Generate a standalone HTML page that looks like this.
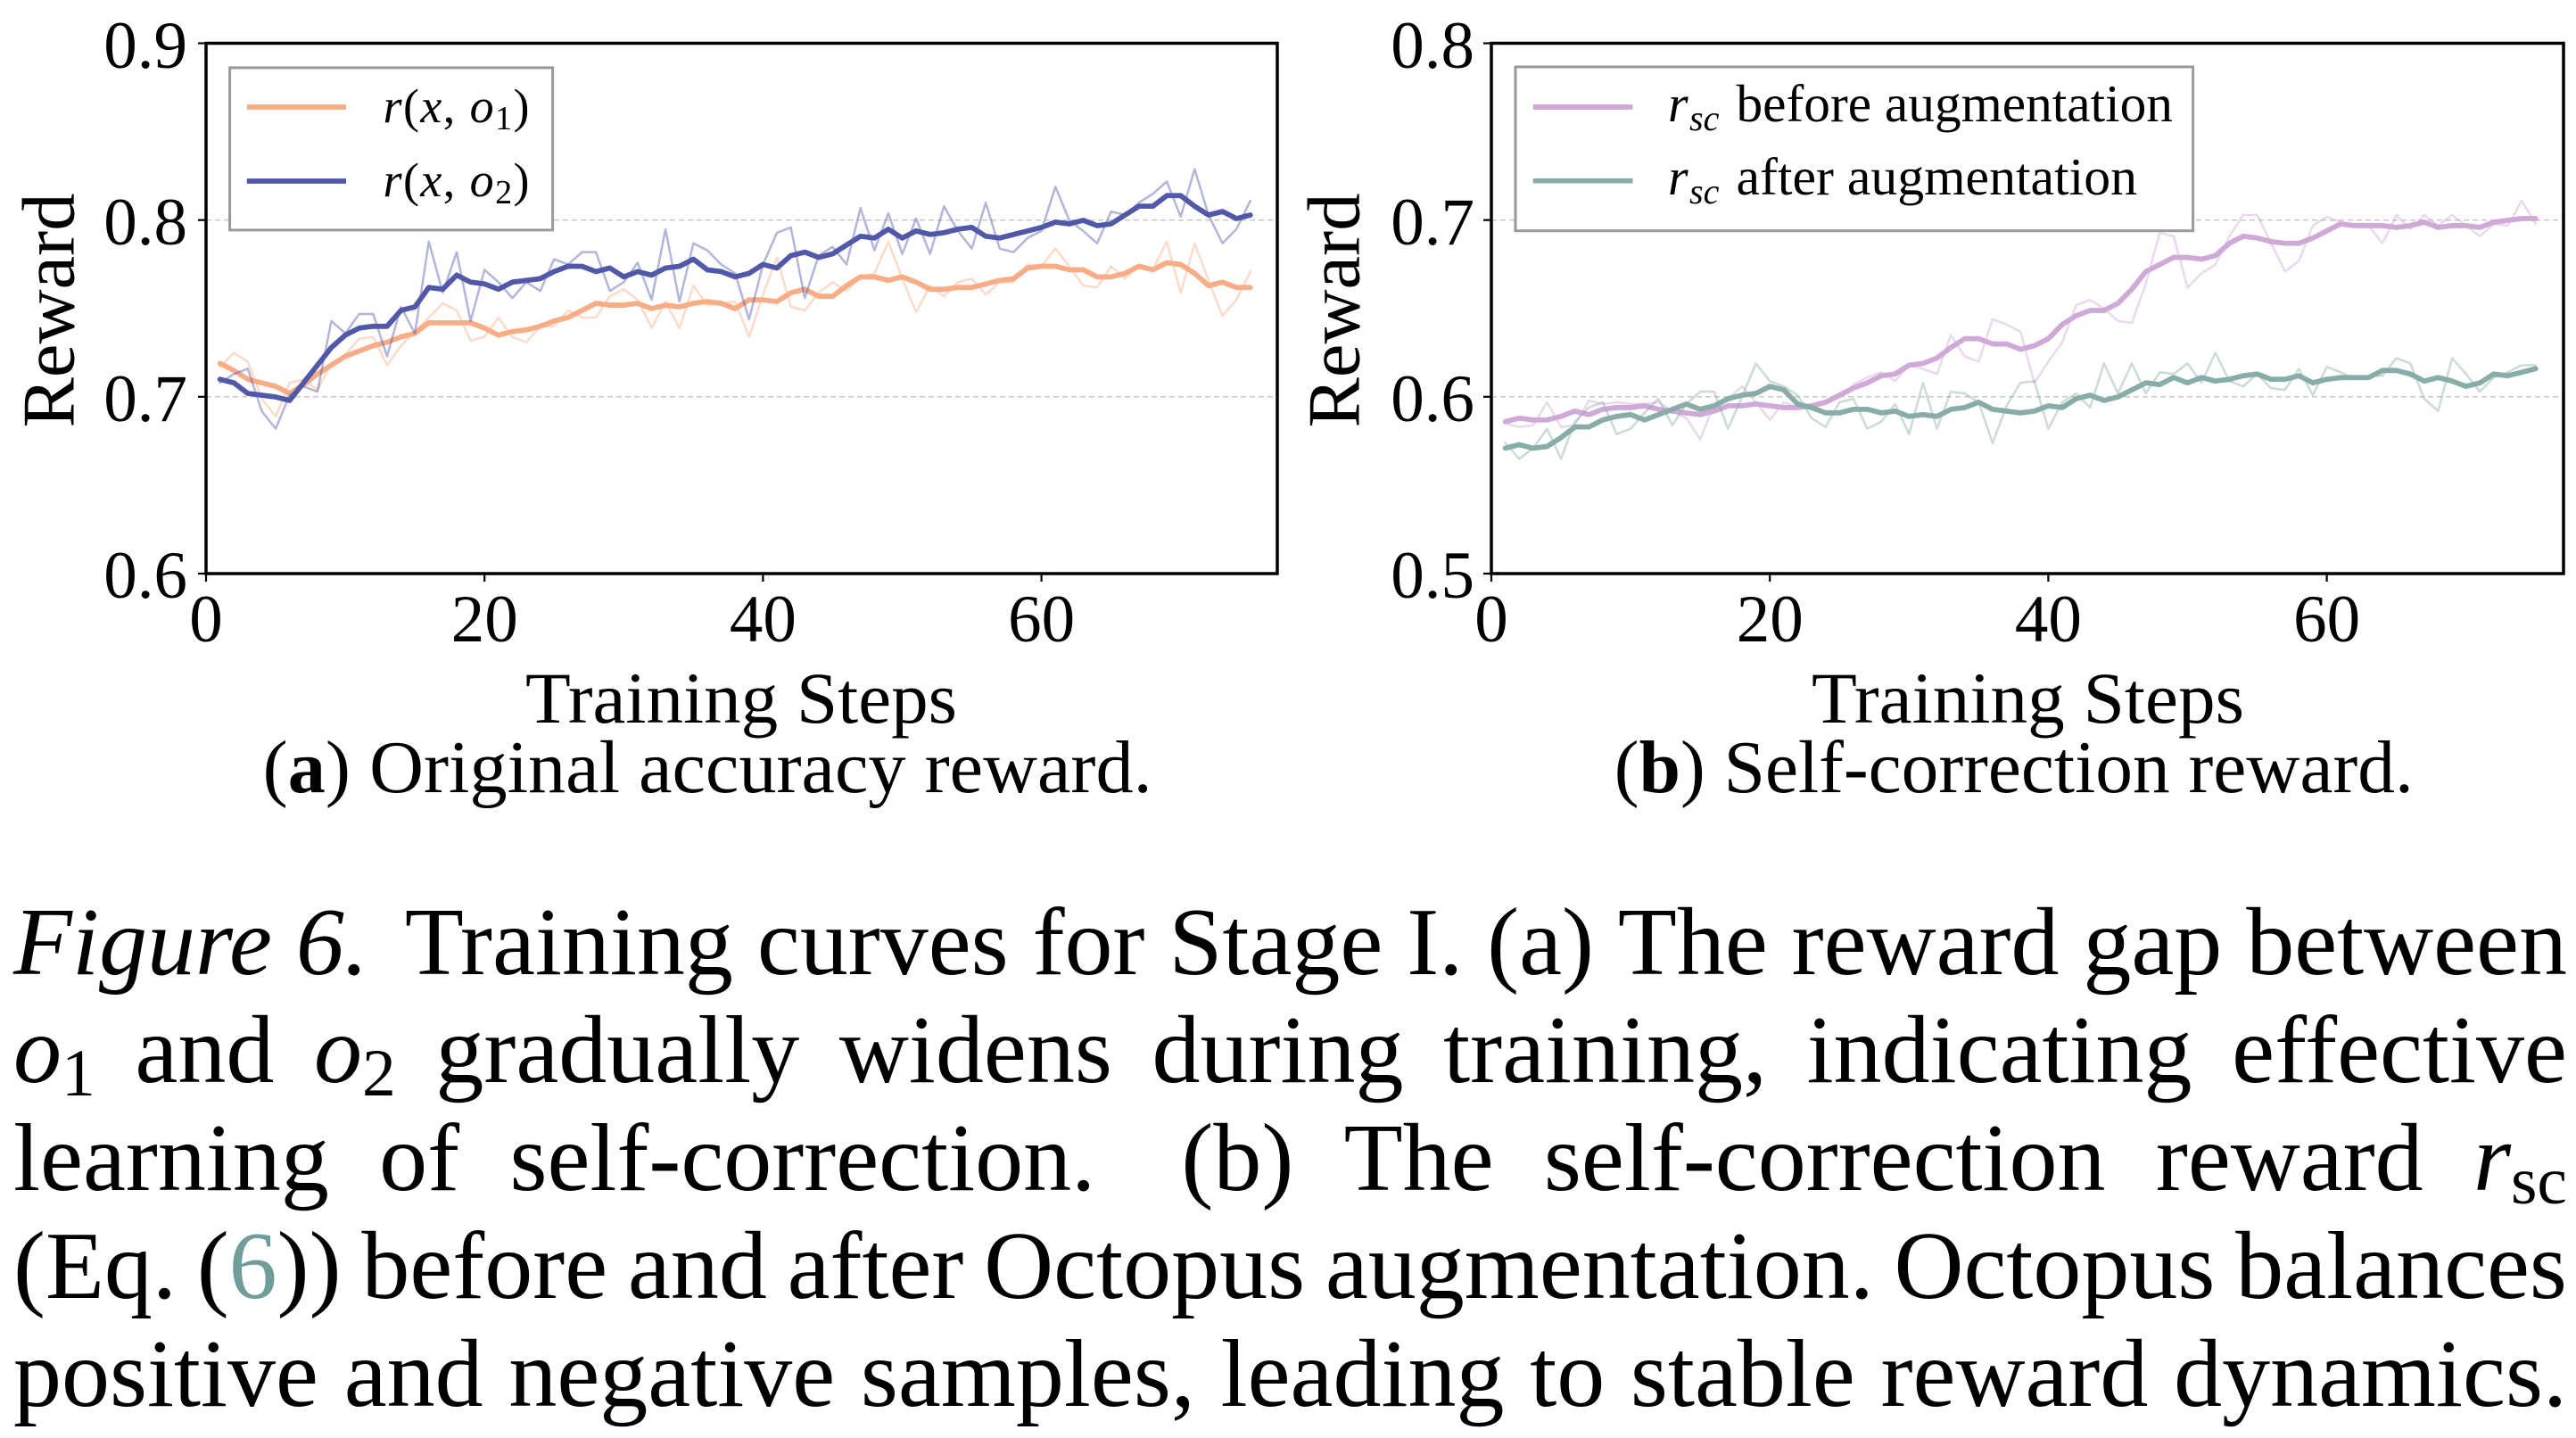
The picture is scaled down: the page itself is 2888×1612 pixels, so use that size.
<!DOCTYPE html>
<html>
<head>
<meta charset="utf-8">
<style>
  html,body{margin:0;padding:0;background:#fff;}
  body{width:2888px;height:1612px;position:relative;overflow:hidden;}
  svg{position:absolute;left:0;top:0;}
  .cap{position:absolute;left:15px;width:2863px;height:108px;display:flex;justify-content:space-between;align-items:baseline;
       font-family:"Liberation Serif",serif;font-size:108px;line-height:1;color:#000;white-space:nowrap;}
  .cap span{line-height:1;}
  .cap sub{font-size:0.7em;vertical-align:-0.2em;line-height:0;}
  .it{font-style:italic;}
</style>
</head>
<body>
<svg width="2888" height="1612" viewBox="0 0 2888 1612" xmlns="http://www.w3.org/2000/svg" font-family="'Liberation Serif', serif">
  <!-- grid -->
  <g stroke="#c9c9c9" stroke-width="1.5" stroke-dasharray="6 4">
    <line x1="231" y1="246.7" x2="1432" y2="246.7"/>
    <line x1="231" y1="444.8" x2="1432" y2="444.8"/>
    <line x1="1672" y1="246.7" x2="2874" y2="246.7"/>
    <line x1="1672" y1="444.8" x2="2874" y2="444.8"/>
  </g>

  <g transform="matrix(15.61 0 0 -1980 231 1831)" fill="none" stroke-linejoin="round" stroke-linecap="round">
    <polyline vector-effect="non-scaling-stroke" stroke="#F8AD86" stroke-opacity="0.44" stroke-width="2.5"
      points="1,.717 2,.725 3,.720 4,.699 5,.689 6,.708 7,.710 8,.704 9,.719 10,.724 11,.733 12,.734 13,.718 14,.729 15,.737 16,.745 17,.753 18,.749 19,.732 20,.734 21,.745 22,.734 23,.731 24,.740 25,.740 26,.749 27,.745 28,.745 29,.757 30,.761 31,.755 32,.739 33,.754 34,.739 35,.763 36,.752 37,.753 38,.754 39,.734 40,.758 41,.779 42,.751 43,.749 44,.759 45,.765 46,.760 47,.768 48,.770 49,.788 50,.767 51,.748 52,.763 53,.757 54,.765 55,.767 56,.758 57,.765 58,.765 59,.775 60,.774 61,.784 62,.774 63,.763 64,.762 65,.774 66,.767 67,.775 68,.772 69,.788 70,.759 71,.787 72,.766 73,.746 74,.755 75,.771"/>
    <polyline vector-effect="non-scaling-stroke" stroke="#F8AD86" stroke-width="5.8"
      points="1,.719 2,.715 3,.710 4,.708 5,.706 6,.702 7,.707 8,.713 9,.718 10,.723 11,.726 12,.729 13,.731 14,.734 15,.736 16,.742 17,.742 18,.742 19,.742 20,.739 21,.735 22,.737 23,.738 24,.740 25,.743 26,.745 27,.749 28,.753 29,.752 30,.752 31,.753 32,.750 33,.752 34,.751 35,.753 36,.754 37,.753 38,.750 39,.755 40,.755 41,.754 42,.759 43,.761 44,.757 45,.757 46,.763 47,.768 48,.768 49,.766 50,.768 51,.765 52,.761 53,.761 54,.762 55,.762 56,.764 57,.766 58,.767 59,.773 60,.774 61,.774 62,.772 63,.772 64,.768 65,.768 66,.770 67,.774 68,.772 69,.776 70,.775 71,.770 72,.763 73,.765 74,.762 75,.762"/>
    <polyline vector-effect="non-scaling-stroke" stroke="#5258A8" stroke-opacity="0.44" stroke-width="2.5"
      points="1,.708 2,.713 3,.716 4,.692 5,.682 6,.701 7,.706 8,.703 9,.743 10,.736 11,.747 12,.747 13,.723 14,.751 15,.736 16,.788 17,.759 18,.782 19,.743 20,.772 21,.765 22,.756 23,.765 24,.760 25,.778 26,.775 27,.782 28,.782 29,.760 30,.765 31,.776 32,.755 33,.795 34,.754 35,.787 36,.783 37,.775 38,.770 39,.744 40,.775 41,.793 42,.796 43,.756 44,.780 45,.785 46,.775 47,.807 48,.783 49,.804 50,.781 51,.801 52,.781 53,.808 54,.794 55,.784 56,.810 57,.784 58,.782 59,.790 60,.794 61,.819 62,.800 63,.794 64,.787 65,.805 66,.803 67,.810 68,.815 69,.822 70,.802 71,.829 72,.803 73,.787 74,.795 75,.811"/>
    <polyline vector-effect="non-scaling-stroke" stroke="#5258A8" stroke-width="5.8"
      points="1,.710 2,.708 3,.702 4,.701 5,.700 6,.698 7,.708 8,.718 9,.728 10,.735 11,.739 12,.740 13,.740 14,.749 15,.751 16,.762 17,.761 18,.769 19,.765 20,.764 21,.761 22,.765 23,.766 24,.767 25,.771 26,.774 27,.774 28,.771 29,.773 30,.768 31,.771 32,.769 33,.773 34,.774 35,.778 36,.772 37,.771 38,.768 39,.770 40,.775 41,.773 42,.780 43,.782 44,.779 45,.781 46,.786 47,.791 48,.790 49,.795 50,.790 51,.794 52,.792 53,.793 54,.795 55,.796 56,.791 57,.790 58,.792 59,.794 60,.796 61,.799 62,.798 63,.800 64,.797 65,.798 66,.803 67,.808 68,.808 69,.814 70,.814 71,.808 72,.803 73,.805 74,.801 75,.803"/>
  </g>

  <g transform="matrix(15.61 0 0 -1980 1672 1633)" fill="none" stroke-linejoin="round" stroke-linecap="round">
    <polyline vector-effect="non-scaling-stroke" stroke="#CFA9D7" stroke-opacity="0.44" stroke-width="2.5"
      points="1,.585 2,.583 3,.584 4,.597 5,.583 6,.584 7,.598 8,.596 9,.597 10,.596 11,.596 12,.597 13,.592 14,.588 15,.576 16,.596 17,.599 18,.606 19,.597 20,.587 21,.597 22,.594 23,.594 24,.596 25,.600 26,.607 27,.611 28,.614 29,.609 30,.618 31,.616 32,.613 33,.635 34,.623 35,.620 36,.644 37,.641 38,.637 39,.608 40,.620 41,.631 42,.652 43,.655 44,.650 45,.643 46,.642 47,.664 48,.693 49,.691 50,.662 51,.670 52,.675 53,.691 54,.703 55,.703 56,.687 57,.671 58,.677 59,.697 60,.702 61,.699 62,.697 63,.697 64,.687 65,.703 66,.695 67,.703 68,.697 69,.703 70,.697 71,.691 72,.698 73,.697 74,.711 75,.698"/>
    <polyline vector-effect="non-scaling-stroke" stroke="#CFA9D7" stroke-width="5.8"
      points="1,.586 2,.588 3,.587 4,.587 5,.589 6,.592 7,.590 8,.593 9,.594 10,.594 11,.595 12,.593 13,.592 14,.591 15,.590 16,.592 17,.595 18,.595 19,.596 20,.595 21,.594 22,.594 23,.595 24,.597 25,.601 26,.605 27,.608 28,.612 29,.613 30,.618 31,.619 32,.622 33,.628 34,.633 35,.633 36,.630 37,.630 38,.627 39,.629 40,.633 41,.641 42,.646 43,.649 44,.649 45,.653 46,.661 47,.671 48,.675 49,.679 50,.679 51,.678 52,.680 53,.687 54,.691 55,.690 56,.688 57,.687 58,.687 59,.690 60,.694 61,.698 62,.697 63,.697 64,.697 65,.696 66,.697 67,.699 68,.696 69,.697 70,.697 71,.696 72,.699 73,.700 74,.701 75,.701"/>
    <polyline vector-effect="non-scaling-stroke" stroke="#88ADA9" stroke-opacity="0.44" stroke-width="2.5"
      points="1,.574 2,.565 3,.571 4,.582 5,.565 6,.586 7,.594 8,.597 9,.579 10,.582 11,.591 12,.599 13,.584 14,.596 15,.603 16,.603 17,.582 18,.600 19,.619 20,.609 21,.606 22,.601 23,.588 24,.583 25,.597 26,.599 27,.582 28,.586 29,.596 30,.579 31,.608 32,.582 33,.603 34,.602 35,.597 36,.574 37,.595 38,.608 39,.609 40,.582 41,.597 42,.602 43,.594 44,.619 45,.602 46,.619 47,.602 48,.614 49,.613 50,.619 51,.608 52,.625 53,.609 54,.606 55,.613 56,.605 57,.604 58,.616 59,.601 60,.617 61,.614 62,.610 63,.612 64,.612 65,.622 66,.619 67,.599 68,.592 69,.622 70,.613 71,.603 72,.611 73,.614 74,.618 75,.618"/>
    <polyline vector-effect="non-scaling-stroke" stroke="#88ADA9" stroke-width="5.8"
      points="1,.571 2,.573 3,.571 4,.572 5,.577 6,.583 7,.583 8,.587 9,.589 10,.590 11,.587 12,.590 13,.593 14,.596 15,.593 16,.595 17,.599 18,.601 19,.602 20,.606 21,.604 22,.596 23,.594 24,.591 25,.591 26,.593 27,.593 28,.591 29,.592 30,.589 31,.590 32,.589 33,.593 34,.594 35,.597 36,.593 37,.592 38,.591 39,.592 40,.595 41,.594 42,.599 43,.601 44,.598 45,.600 46,.604 47,.608 48,.607 49,.611 50,.608 51,.611 52,.609 53,.610 54,.612 55,.613 56,.610 57,.610 58,.612 59,.608 60,.610 61,.611 62,.611 63,.611 64,.615 65,.615 66,.613 67,.609 68,.611 69,.609 70,.606 71,.608 72,.613 73,.612 74,.614 75,.616"/>
  </g>

  <!-- frames -->
  <rect x="231" y="48.5" width="1201" height="594.5" fill="none" stroke="#000" stroke-width="3.5"/>
  <rect x="1672" y="48.5" width="1202" height="594.5" fill="none" stroke="#000" stroke-width="3.5"/>

  <!-- ticks -->
  <g stroke="#000" stroke-width="2.2">
    <line x1="222" y1="48.5" x2="231" y2="48.5"/>
    <line x1="222" y1="246.7" x2="231" y2="246.7"/>
    <line x1="222" y1="444.8" x2="231" y2="444.8"/>
    <line x1="222" y1="643" x2="231" y2="643"/>
    <line x1="231" y1="643" x2="231" y2="652"/>
    <line x1="543.2" y1="643" x2="543.2" y2="652"/>
    <line x1="855.4" y1="643" x2="855.4" y2="652"/>
    <line x1="1167.6" y1="643" x2="1167.6" y2="652"/>
    <line x1="1663" y1="48.5" x2="1672" y2="48.5"/>
    <line x1="1663" y1="246.7" x2="1672" y2="246.7"/>
    <line x1="1663" y1="444.8" x2="1672" y2="444.8"/>
    <line x1="1663" y1="643" x2="1672" y2="643"/>
    <line x1="1672" y1="643" x2="1672" y2="652"/>
    <line x1="1984.2" y1="643" x2="1984.2" y2="652"/>
    <line x1="2296.4" y1="643" x2="2296.4" y2="652"/>
    <line x1="2608.6" y1="643" x2="2608.6" y2="652"/>
  </g>

  <!-- tick labels -->
  <g font-size="75" fill="#000" text-anchor="end">
    <text x="210" y="76">0.9</text>
    <text x="210" y="274">0.8</text>
    <text x="210" y="472">0.7</text>
    <text x="210" y="670">0.6</text>
    <text x="1653" y="76">0.8</text>
    <text x="1653" y="274">0.7</text>
    <text x="1653" y="472">0.6</text>
    <text x="1653" y="670">0.5</text>
  </g>
  <g font-size="75" fill="#000" text-anchor="middle">
    <text x="231" y="719">0</text>
    <text x="543.2" y="719">20</text>
    <text x="855.4" y="719">40</text>
    <text x="1167.6" y="719">60</text>
    <text x="1672" y="719">0</text>
    <text x="1984.2" y="719">20</text>
    <text x="2296.4" y="719">40</text>
    <text x="2608.6" y="719">60</text>
  </g>

  <!-- axis labels -->
  <text transform="translate(82.6,348) rotate(-90)" text-anchor="middle" font-size="84" textLength="263" lengthAdjust="spacingAndGlyphs">Reward</text>
  <text transform="translate(1523.6,348) rotate(-90)" text-anchor="middle" font-size="84" textLength="263" lengthAdjust="spacingAndGlyphs">Reward</text>
  <text x="589" y="810" font-size="82" textLength="484" lengthAdjust="spacingAndGlyphs">Training Steps</text>
  <text x="2031" y="810" font-size="82" textLength="485" lengthAdjust="spacingAndGlyphs">Training Steps</text>

  <!-- sub captions -->
  <text x="294.7" y="888" font-size="84" textLength="997" lengthAdjust="spacingAndGlyphs">(<tspan font-weight="bold">a</tspan>) Original accuracy reward.</text>
  <text x="1809.8" y="888" font-size="84" textLength="896" lengthAdjust="spacingAndGlyphs">(<tspan font-weight="bold">b</tspan>) Self-correction reward.</text>

  <!-- legend left -->
  <rect x="257.6" y="75.9" width="362" height="182" fill="#fff" stroke="#9a9a9a" stroke-width="3"/>
  <line x1="276.8" y1="120" x2="388" y2="120" stroke="#F8AD86" stroke-width="5.7"/>
  <line x1="276.8" y1="203" x2="388" y2="203" stroke="#5258A8" stroke-width="5.7"/>
  <text x="429.5" y="137" font-size="54" textLength="164" lengthAdjust="spacing"><tspan font-style="italic">r</tspan>(<tspan font-style="italic">x</tspan>, <tspan font-style="italic">o</tspan><tspan font-size="38" dy="8">1</tspan><tspan dy="-8">)</tspan></text>
  <text x="429.5" y="220" font-size="54" textLength="164" lengthAdjust="spacing"><tspan font-style="italic">r</tspan>(<tspan font-style="italic">x</tspan>, <tspan font-style="italic">o</tspan><tspan font-size="38" dy="8">2</tspan><tspan dy="-8">)</tspan></text>

  <!-- legend right -->
  <rect x="1699" y="75" width="759.6" height="183.7" fill="#fff" stroke="#9a9a9a" stroke-width="3"/>
  <line x1="1718.8" y1="120" x2="1830.4" y2="120" stroke="#CFA9D7" stroke-width="5.7"/>
  <line x1="1718.8" y1="202.7" x2="1830.4" y2="202.7" stroke="#88ADA9" stroke-width="5.7"/>
  <text x="1870" y="136" font-size="58" font-style="italic">r</text>
  <text x="1894" y="146" font-size="40" font-style="italic">sc</text>
  <text x="1946.5" y="136" font-size="59" textLength="489.5" lengthAdjust="spacingAndGlyphs">before augmentation</text>
  <text x="1870" y="218" font-size="58" font-style="italic">r</text>
  <text x="1894" y="228" font-size="40" font-style="italic">sc</text>
  <text x="1946.5" y="218" font-size="59" textLength="449.5" lengthAdjust="spacingAndGlyphs">after augmentation</text>
</svg>

<!-- caption -->
<div class="cap" style="top:1002.5px;">
  <span class="it" style="margin-right:14px;">Figure 6.</span><span>Training</span><span>curves</span><span>for</span><span>Stage</span><span>I.</span><span>(a)</span><span>The</span><span>reward</span><span>gap</span><span>between</span>
</div>
<div class="cap" style="top:1123.5px;">
  <span><span class="it">o</span><sub>1</sub></span><span>and</span><span><span class="it">o</span><sub>2</sub></span><span>gradually</span><span>widens</span><span>during</span><span>training,</span><span>indicating</span><span>effective</span>
</div>
<div class="cap" style="top:1244.5px;">
  <span>learning</span><span>of</span><span style="margin-right:40px;">self-correction.</span><span>(b)</span><span>The</span><span>self-correction</span><span>reward</span><span><span class="it">r</span><sub>sc</sub></span>
</div>
<div class="cap" style="top:1365.5px;">
  <span>(Eq.</span><span>(<span style="color:#6f9d9c;">6</span>))</span><span>before</span><span>and</span><span>after</span><span>Octopus</span><span>augmentation.</span><span>Octopus</span><span>balances</span>
</div>
<div class="cap" style="top:1486.5px;">
  <span>positive</span><span>and</span><span>negative</span><span>samples,</span><span>leading</span><span>to</span><span>stable</span><span>reward</span><span>dynamics.</span>
</div>
</body>
</html>
